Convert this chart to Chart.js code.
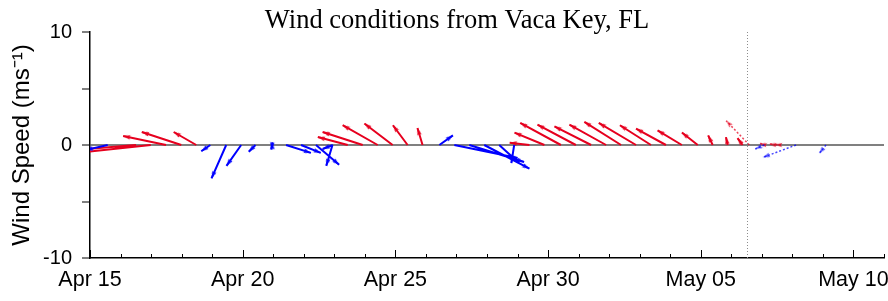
<!DOCTYPE html>
<html>
<head>
<meta charset="utf-8">
<script src="https://cdn.jsdelivr.net/npm/chart.js@4/dist/chart.umd.min.js"></script>
<style>
  html, body { margin: 0; padding: 0; background: #fff; }
  #wrap { width: 888px; height: 301px; }
</style>
</head>
<body>
<div id="wrap"><canvas id="myChart" width="888" height="301"></canvas></div>
<script>
// tiempos en dias desde Apr 15, viento u (este) y v (norte) en m/s
const tiemposRojo = [1.51, 1.99, 2.49, 2.99, 3.48, 8.44, 8.93, 9.42, 9.91, 10.40, 10.89,
  14.39, 14.88, 15.42, 15.91, 16.41, 16.90, 17.39, 17.88, 18.37, 18.86, 19.38, 19.90,
  20.39, 20.88, 21.37, 21.59, 22.13, 22.46, 22.63]
const uRojo = [-5.0, -6.5, -3.8, -3.5, -2.0, -2.65, -3.55, -3.1, -2.5, -1.3, -0.45,
  -1.75, -2.65, -3.6, -3.4, -3.25, -3.25, -3.25, -3.3, -2.75, -2.65, -2.15, -1.4,
  -0.4, -0.15, -0.45, -2.05, -0.55, -0.6, -0.55]
const vRojo = [-0.4, -0.7, 0.8, 1.15, 1.15, 0.7, 1.15, 1.75, 1.9, 1.75, 1.5,
  0.2, 1.1, 1.95, 1.8, 1.65, 1.8, 2.05, 1.95, 1.75, 1.45, 1.3, 1.1,
  0.85, 0.7, 0.6, 2.15, 0.15, 0.1, 0.05]

const tiemposAzul = [0.58, 3.94, 4.46, 4.95, 5.42, 5.96, 5.97, 6.42, 6.91, 7.40, 7.94, 7.95,
  11.44, 11.93, 12.42, 12.91, 13.40, 13.89, 22.08, 23.12, 24.10]
const uAzul = [-1.95, -0.8, -1.3, -1.3, -0.6, -0.05, 0.0, 2.2, 1.75, 2.05, -0.55, -0.9,
  1.2, 5.6, 4.85, 4.0, 1.75, -0.25, -0.8, -2.95, -0.6]
const vAzul = [-0.44, -0.55, -2.95, -1.85, -0.6, -0.4, 0.25, -0.7, -0.7, -1.75, -1.85, -0.35,
  0.85, -1.15, -1.5, -2.1, -1.6, -1.6, -0.35, -1.1, -0.75]

// etiquetas del eje x (dias desde Apr 15)
const xEtiquetas = ['Apr 15', 'Apr 20', 'Apr 25', 'Apr 30', 'May 05', 'May 10']
const xPosiciones = [0, 5, 10, 15, 20, 25]
const yEtiquetas = [-10, 0, 10]
const ahora = 21.53 // linea punteada: datos a la derecha son pronostico

const kx = 0.37 // dias de eje x por 1 m/s (para que las flechas no se deformen)
const rojo = '#e6001e', azul = '#0000ff'

// punta de flecha como imagen (apunta hacia arriba, la punta en el centro)
function punta(color) {
  const c = document.createElement('canvas')
  c.width = 16; c.height = 16
  const g = c.getContext('2d')
  g.fillStyle = color
  g.beginPath()
  g.moveTo(8, 8); g.lineTo(10.3, 15.5); g.lineTo(8, 14); g.lineTo(5.7, 15.5)
  g.closePath(); g.fill()
  return c
}

// base en (t, 0), punta en (t + u*kx, v), null para cortar la linea
function flechas(tiempos, u, v, pronostico) {
  const datos = []
  tiempos.forEach((t, i) => {
    if ((t > ahora) !== pronostico) return
    datos.push({ x: t, y: 0 }, { x: t + u[i] * kx, y: v[i] }, { x: t, y: null })
  })
  return datos
}

function rotacion(ctx) {
  if (ctx.dataIndex % 3 !== 1) return 0
  const data = ctx.dataset.data
  const base = data[ctx.dataIndex - 1], tip = data[ctx.dataIndex]
  const { x, y } = ctx.chart.scales
  const dx = x.getPixelForValue(tip.x) - x.getPixelForValue(base.x)
  const dy = y.getPixelForValue(tip.y) - y.getPixelForValue(base.y)
  return Math.atan2(dx, -dy) * 180 / Math.PI
}

function serie(datos, color, pronostico) {
  return {
    type: 'line',
    data: datos,
    borderColor: pronostico ? color + 'bb' : color,
    borderWidth: pronostico ? 1.5 : 2,
    borderDash: pronostico ? [2, 2] : [],
    spanGaps: false,
    pointStyle: punta(pronostico ? color + 'aa' : color),
    pointRadius: ctx => ctx.dataIndex % 3 === 1 ? 3 : 0,
    pointRotation: rotacion,
    tension: 0
  }
}

const datasets = [
  {
    type: 'line',
    data: [{ x: ahora, y: -10 }, { x: ahora, y: 10 }],
    borderColor: '#8c8c8c',
    borderWidth: 1,
    borderDash: [1, 2],
    pointRadius: 0
  },
  serie(flechas(tiemposAzul, uAzul, vAzul, false), azul, false),
  serie(flechas(tiemposRojo, uRojo, vRojo, false), rojo, false),
  serie(flechas(tiemposAzul, uAzul, vAzul, true), azul, true),
  serie(flechas(tiemposRojo, uRojo, vRojo, true), rojo, true)
]

// marcas del eje x hacia adentro y el titulo
const marcasX = {
  id: 'marcasX',
  afterDraw(chart) {
    const { ctx, chartArea, scales: { x } } = chart
    ctx.save()
    ctx.strokeStyle = '#000'
    ctx.lineWidth = 1
    for (let d = 0; d <= 26; d++) {
      const px = Math.round(x.getPixelForValue(d)) + 0.5
      const largo = xPosiciones.includes(d) ? 8 : 4
      ctx.beginPath()
      ctx.moveTo(px, chartArea.bottom)
      ctx.lineTo(px, chartArea.bottom - largo)
      ctx.stroke()
    }
    ctx.fillStyle = '#000'
    ctx.font = '26.5px "Liberation Serif"'
    ctx.textAlign = 'center'
    ctx.textBaseline = 'alphabetic'
    ctx.fillText('Wind conditions from Vaca Key, FL', 457, 28)
    ctx.restore()
  }
}

Chart.defaults.font.family = '"Liberation Sans", Arial, sans-serif'
Chart.defaults.font.size = 20
Chart.defaults.color = '#000'

new Chart(document.getElementById('myChart'), {
  type: 'scatter',
  data: { datasets },
  plugins: [marcasX],
  options: {
    responsive: false,
    animation: false,
    events: [],
    layout: { padding: { top: 32, right: 4, left: 0, bottom: 0 } },
    plugins: { legend: { display: false }, tooltip: { enabled: false } },
    scales: {
      x: {
        type: 'linear',
        min: 0,
        max: 26,
        afterFit: s => { s.height = 43; s.paddingRight = 0; s.paddingLeft = 0 },
        afterBuildTicks: s => { s.ticks = xPosiciones.map(v => ({ value: v })) },
        ticks: {
          autoSkip: false,
          maxRotation: 0,
          padding: 9,
          font: { size: 21.5 },
          callback: v => xEtiquetas[xPosiciones.indexOf(v)] ?? ''
        },
        grid: { drawOnChartArea: false, drawTicks: false },
        border: { color: '#000', width: 1.5 }
      },
      y: {
        min: -10,
        max: 10,
        afterFit: s => { s.width = 90 },
        ticks: {
          stepSize: 5,
          padding: 10,
          callback: v => yEtiquetas.includes(v) ? String(v) : ''
        },
        grid: {
          color: ctx => ctx.tick && ctx.tick.value === 0 ? '#808080' : 'rgba(0,0,0,0)',
          lineWidth: 2,
          tickColor: '#000',
          tickLength: 8,
          tickWidth: 1
        },
        border: { color: '#000', width: 1.5 },
        title: {
          display: true,
          text: 'Wind Speed (ms⁻¹)',
          font: { size: 24 },
          padding: { top: 8, bottom: 0 }
        }
      }
    }
  }
})
</script>
</body>
</html>
